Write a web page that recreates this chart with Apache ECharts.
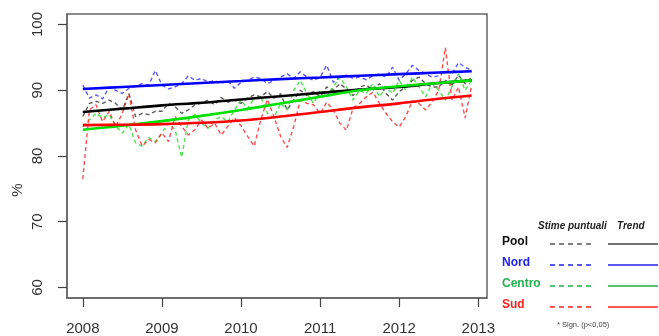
<!DOCTYPE html>
<html>
<head>
<meta charset="utf-8">
<script src="https://cdn.jsdelivr.net/npm/echarts@6/dist/echarts.min.js"></script>
<style>
html,body{margin:0;padding:0;background:#fff;}
#chart{width:659px;height:336px;}
</style>
</head>
<body>
<div id="chart"></div>
<script>
// Tick labels
const yearTicks = [2008, 2009, 2010, 2011, 2012, 2013];
const pctTicks = [60, 70, 80, 90, 100];
const startYear = 2008; // first monthly estimate = Jan 2008

// Monthly point estimates (Stime puntuali), Jan 2008 .. Dec 2012
const poolStime = [86.0,88.0,88.3,88.0,88.5,88.0,87.0,89.5,86.0,86.5,86.3,86.8,
  86.8,88.0,87.5,86.5,87.0,87.8,88.0,88.5,87.8,88.9,88.2,88.5,
  88.0,88.8,89.3,89.0,89.8,88.8,89.5,87.0,88.5,90.0,89.2,89.8,
  89.0,90.5,90.0,91.0,90.2,89.2,90.5,90.8,90.0,91.0,89.5,88.5,
  89.8,90.5,91.5,92.0,91.0,90.5,90.5,91.5,90.8,92.3,91.0,92.0];
const nordStime = [90.8,88.8,89.3,88.7,90.5,90.0,89.5,90.3,90.6,91.0,90.8,93.0,
  90.8,90.2,90.5,91.0,92.2,91.5,91.8,91.2,91.5,91.0,91.5,90.3,
  91.2,91.5,92.0,91.8,91.0,91.5,92.0,92.5,91.8,92.8,92.0,91.5,
  92.0,93.8,91.2,92.0,92.3,91.8,92.0,91.6,92.2,92.5,92.0,93.5,
  91.5,92.5,93.8,93.0,92.5,92.0,92.2,93.0,92.5,94.2,93.5,93.0];
const centroStime = [84.5,85.5,86.5,85.8,86.3,84.5,83.5,84.8,82.0,81.5,82.8,82.2,
  83.5,85.0,84.0,79.8,85.5,86.3,85.0,84.2,85.5,86.0,85.2,87.0,
  88.5,87.2,88.8,89.0,86.5,85.8,88.0,87.0,90.0,91.5,89.5,88.0,
  90.0,89.0,90.5,92.0,90.5,88.5,90.0,89.5,91.0,89.0,90.5,89.5,
  91.5,90.0,92.0,90.5,89.0,91.0,90.0,88.5,90.5,92.5,90.0,91.5];
const sudStime = [76.5,87.0,87.8,85.2,86.8,84.5,86.5,89.5,84.0,81.5,82.5,82.0,
  83.5,82.2,86.0,84.5,83.2,84.0,85.5,84.2,85.0,83.2,84.5,85.8,
  84.6,83.0,81.5,85.5,88.6,86.0,83.0,81.3,84.5,88.5,88.0,87.8,
  86.5,88.2,87.0,85.0,83.9,87.3,88.0,89.0,89.7,88.0,86.5,85.2,
  84.4,86.0,88.4,88.0,87.0,88.2,90.0,96.5,88.5,90.5,85.8,90.8];

// Trend curves, read at these month indexes
const trendMonths = [0, 6, 12, 18, 24, 30, 36, 42, 48, 54, 59];
const poolTrend   = [86.7,87.2,87.7,88.1,88.6,89.1,89.6,90.1,90.5,91.1,91.5];
const nordTrend   = [90.2,90.5,90.8,91.1,91.4,91.7,91.95,92.2,92.45,92.7,92.9];
const centroTrend = [84.0,84.6,85.3,86.1,87.0,88.0,89.0,90.0,90.6,91.1,91.5];
const sudTrend    = [84.7,84.75,84.85,85.05,85.4,86.0,86.7,87.4,88.0,88.7,89.2];

const names = ['Pool', 'Nord', 'Centro', 'Sud'];
const lineColors = ['#000000', '#0000ff', '#00e000', '#ff0000'];
const dashColors = ['#333333', '#3030ff', '#20dd20', '#ff2020'];
const legendColors = ['#111111', '#2020f0', '#22b14c', '#ff2020'];
const stimeAll = [poolStime, nordStime, centroStime, sudStime];
const trendAll = [poolTrend, nordTrend, centroTrend, sudTrend];

const toMonthly = arr => arr.map((v, i) => [startYear + i / 12, v]);
const toTrend = arr => arr.map((v, i) => [startYear + trendMonths[i] / 12, v]);

const series = [];
stimeAll.forEach((arr, k) => {
  series.push({
    type: 'line', name: names[k] + ' stime', data: toMonthly(arr),
    symbol: 'none', silent: true, z: 2,
    lineStyle: { color: dashColors[k], width: 1.4, type: [4, 3], opacity: 0.8 }
  });
});
trendAll.forEach((arr, k) => {
  series.push({
    type: 'line', name: names[k] + ' trend', data: toTrend(arr),
    symbol: 'none', silent: true, smooth: 0.4, z: 3,
    lineStyle: { color: lineColors[k], width: 2.6 }
  });
});

// Legend table (drawn as graphic)
const graphics = [];
const lx = 502, dashX0 = 550, dashX1 = 594, solX0 = 608, solX1 = 658;
graphics.push({ type: 'text', left: 538, top: 221, style: { text: 'Stime puntuali', font: 'italic bold 10px "Liberation Sans", Arial', fill: '#222' } });
graphics.push({ type: 'text', left: 617, top: 221, style: { text: 'Trend', font: 'italic bold 10px "Liberation Sans", Arial', fill: '#222' } });
const rowY = [243, 264, 285, 306];
names.forEach((n, k) => {
  graphics.push({ type: 'text', left: lx, top: rowY[k] - 7, style: { text: n, font: 'bold 12px "Liberation Sans", Arial', fill: legendColors[k] } });
  graphics.push({ type: 'line', shape: { x1: dashX0, y1: rowY[k] + 1, x2: dashX1, y2: rowY[k] + 1 }, style: { stroke: k === 0 ? '#555' : legendColors[k], lineWidth: 1.5, lineDash: [5, 4] } });
  graphics.push({ type: 'line', shape: { x1: solX0, y1: rowY[k] + 1, x2: solX1, y2: rowY[k] + 1 }, style: { stroke: k === 0 ? '#444' : legendColors[k], lineWidth: 1.5 } });
});
graphics.push({ type: 'text', left: 557, top: 321, style: { text: '* Sign. (p<0,05)', font: '7.5px "Liberation Sans", Arial', fill: '#444' } });
graphics.push({ type: 'text', x: 18, y: 190, rotation: Math.PI / 2, style: { text: '%', font: '15px "Liberation Sans", Arial', fill: '#333', align: 'center', verticalAlign: 'middle' } });

const chart = echarts.init(document.getElementById('chart'), null, { renderer: 'canvas' });
chart.setOption({
  animation: false,
  backgroundColor: '#fff',
  grid: { left: 67, top: 14, right: 172, bottom: 38, show: true, borderColor: '#666', borderWidth: 1.5, backgroundColor: 'transparent' },
  xAxis: {
    type: 'value', min: 2007.8, max: 2013.11,
    axisLine: { show: true, lineStyle: { color: '#666', width: 1.5 } },
    axisTick: { show: true, length: 9, customValues: yearTicks, lineStyle: { color: '#444', width: 1.2 } },
    axisLabel: { customValues: yearTicks, margin: 23, fontSize: 15, color: '#333', fontFamily: '"Liberation Sans", Arial', formatter: v => String(Math.round(v)) },
    splitLine: { show: false }
  },
  yAxis: {
    type: 'value', min: 58.4, max: 101.6,
    axisLine: { show: true, lineStyle: { color: '#666', width: 1.5 } },
    axisTick: { show: true, length: 9, customValues: pctTicks, lineStyle: { color: '#444', width: 1.2 } },
    axisLabel: { customValues: pctTicks, rotate: 90, margin: 22, fontSize: 15, color: '#333', fontFamily: '"Liberation Sans", Arial', formatter: v => String(Math.round(v)) },
    splitLine: { show: false }
  },
  series: series,
  graphic: graphics
});
</script>
</body>
</html>
